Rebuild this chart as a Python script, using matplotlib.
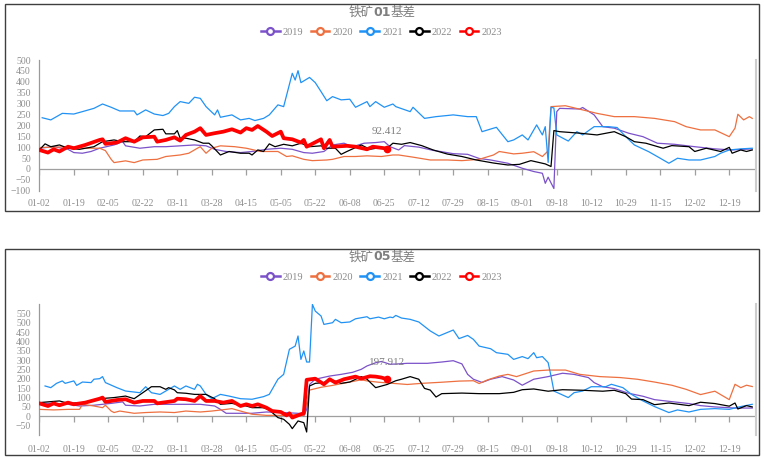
import matplotlib
matplotlib.use('Agg')
import matplotlib.pyplot as plt
from matplotlib.lines import Line2D
from matplotlib.patches import Rectangle
from matplotlib.offsetbox import TextArea, HPacker, AnchoredOffsetbox

# ---------------- data ----------------
tick_labels = ["01-02", "01-19", "02-05", "02-22", "03-11", "03-28", "04-15",
               "05-05", "05-22", "06-08", "06-25", "07-12", "07-29", "08-15",
               "09-01", "09-18", "10-12", "10-29", "11-15", "12-02", "12-19"]
label_step = 12          # trading days between labels
axis_days = 249.2        # category axis length in trading days
years = ["2019", "2020", "2021", "2022", "2023"]

# (trading-day index, basis) pairs
c01_2019 = [(0,95),(5,102),(10,90),(12,75),(15,72),(18,80),(21,95),(26,110),(29,125),(30,106),(35,95),(40,102),(44,102),(49,106),(54,110),(58,106),(61,90),(65,80),(70,75),(74,80),(79,90),(84,95),(88,90),(92,75),(95,72),(99,80),(102,110),(106,118),(109,102),(113,118),(117,121),(120,125),(122,102),(125,87),(127,107),(132,100),(137,85),(140,79),(144,70),(149,67),(153,48),(157,41),(163,26),(168,3),(172,-12),(175,-20),(176,-66),(177,-38),(179,-90),(180,263),(181,278),(188,275),(189,282),(193,248),(196,194),(200,187),(205,164),(210,148),(215,118),(221,113),(228,102),(235,92),(241,87),(248,92)]
c01_2020 = [(0,98),(10,102),(16,95),(21,95),(23,84),(25,44),(26,29),(30,37),(33,29),(36,41),(41,44),(44,57),(49,64),(52,72),(55,95),(56,102),(58,72),(60,95),(63,106),(68,102),(72,95),(77,80),(83,80),(86,57),(88,60),(92,44),(95,38),(100,41),(102,44),(106,57),(110,57),(114,60),(119,57),(123,64),(125,64),(130,54),(136,41),(142,41),(147,38),(153,44),(158,64),(160,80),(165,69),(168,72),(172,79),(175,57),(177,83),(178,286),(183,290),(189,271),(194,255),(200,240),(207,240),(214,232),(221,217),(225,194),(230,179),(235,179),(240,148),(242,187),(243,251),(245,225),(247,240),(248,232)]
c01_2021 = [(1,235),(4,225),(8,255),(12,252),(15,263),(19,278),(22,298),(25,283),(28,266),(33,266),(34,248),(37,271),(40,252),(43,245),(45,255),(47,286),(49,309),(52,301),(54,329),(56,324),(58,286),(61,248),(62,271),(63,237),(67,248),(70,225),(73,232),(75,222),(78,232),(80,248),(83,294),(85,286),(88,439),(89,408),(90,451),(91,396),(94,420),(96,396),(98,355),(100,313),(102,332),(105,317),(108,320),(110,283),(114,309),(115,286),(117,309),(120,283),(123,298),(124,286),(129,263),(130,283),(134,232),(138,240),(144,248),(149,240),(152,240),(154,171),(159,191),(163,125),(165,133),(168,156),(170,133),(173,202),(175,156),(176,194),(177,30),(178,283),(179,280),(180,156),(184,128),(187,171),(189,156),(193,194),(198,194),(201,190),(204,148),(207,110),(212,79),(216,49),(219,26),(222,49),(226,41),(230,41),(235,57),(237,72),(240,87),(244,92),(248,95)]
c01_2022 = [(0,87),(2,115),(4,102),(7,110),(10,95),(14,90),(19,102),(22,125),(26,133),(29,125),(33,125),(35,151),(37,148),(40,179),(43,182),(44,161),(47,161),(48,176),(49,141),(51,141),(54,133),(57,118),(59,118),(60,106),(63,64),(66,80),(70,72),(73,72),(74,64),(76,87),(78,80),(80,115),(82,102),(85,113),(88,106),(91,118),(94,102),(98,106),(100,95),(103,95),(105,67),(107,80),(112,110),(115,90),(119,99),(121,95),(123,118),(126,113),(129,121),(133,107),(137,87),(142,68),(147,57),(152,41),(158,27),(163,18),(167,21),(171,38),(176,23),(178,11),(179,176),(181,171),(188,164),(194,156),(200,171),(204,148),(207,125),(211,118),(217,95),(220,107),(226,102),(228,80),(232,95),(237,80),(240,99),(241,72),(244,87),(246,80),(248,87)]
c01_2023 = [(0,87),(3,75),(5,90),(7,80),(10,102),(12,95),(16,110),(21,133),(22,136),(23,115),(27,121),(30,141),(33,125),(36,145),(40,148),(41,125),(44,133),(47,145),(49,130),(51,156),(54,171),(56,187),(58,156),(61,164),(64,171),(67,182),(70,167),(72,187),(74,179),(76,197),(79,171),(81,151),(84,171),(85,141),(88,136),(91,121),(92,133),(93,102),(98,136),(99,95),(101,133),(102,102),(107,106),(110,102),(114,90),(116,102),(120,95),(121,92.412)]

c05_2019 = [(0,69),(5,69),(10,64),(14,55),(19,59),(25,69),(29,77),(30,59),(35,55),(40,64),(47,64),(51,64),(56,64),(61,55),(63,37),(65,16),(70,16),(74,16),(79,23),(85,20),(91,15),(92,2),(93,37),(94,170),(96,198),(101,215),(105,224),(109,235),(112,251),(114,269),(117,286),(119,293),(122,278),(125,280),(128,283),(135,283),(140,290),(144,297),(147,280),(149,224),(151,198),(154,181),(157,198),(161,212),(165,194),(168,166),(172,198),(177,212),(182,230),(186,224),(191,207),(193,180),(196,158),(200,148),(205,123),(210,107),(214,89),(219,80),(226,68),(230,57),(235,50),(242,44),(248,44)]
c05_2020 = [(0,37),(5,34),(10,37),(14,37),(15,64),(19,55),(22,46),(23,59),(25,28),(26,20),(28,28),(33,16),(37,20),(42,23),(47,20),(51,28),(56,23),(60,28),(65,37),(67,41),(70,28),(74,11),(79,5),(86,5),(91,11),(92,2),(94,140),(98,155),(102,165),(107,180),(112,195),(114,189),(118,182),(123,176),(128,170),(133,176),(140,182),(146,188),(151,190),(153,175),(156,195),(160,215),(163,224),(166,212),(172,242),(177,247),(183,247),(188,224),(195,212),(202,207),(208,198),(214,183),(220,166),(225,144),(230,116),(235,134),(237,116),(240,89),(242,171),(244,153),(246,166),(248,159)]
c05_2021 = [(2,162),(4,153),(6,176),(8,189),(9,176),(12,189),(13,165),(15,183),(18,180),(19,198),(21,201),(22,212),(23,180),(27,153),(30,135),(35,126),(37,158),(39,126),(42,117),(44,135),(47,162),(49,144),(51,162),(54,144),(55,171),(56,162),(58,117),(60,94),(63,117),(66,108),(70,94),(74,91),(78,105),(80,117),(83,198),(85,224),(87,358),(89,375),(90,429),(91,304),(92,349),(93,290),(94,290),(95,598),(96,562),(98,536),(99,491),(102,500),(103,518),(105,500),(108,504),(110,521),(114,532),(115,521),(118,530),(120,521),(122,530),(123,527),(124,539),(126,525),(129,518),(132,504),(136,456),(139,429),(144,461),(146,415),(149,432),(151,411),(153,375),(157,361),(159,340),(163,331),(165,304),(168,319),(170,308),(172,340),(173,313),(175,319),(177,287),(178,215),(179,135),(184,100),(186,126),(189,135),(192,158),(197,158),(199,171),(203,153),(206,117),(210,82),(214,52),(219,20),(222,34),(226,23),(230,37),(235,41),(240,37),(244,52),(248,64)]
c05_2022 = [(0,73),(3,77),(7,82),(10,69),(15,73),(21,94),(26,100),(30,108),(33,94),(36,126),(39,158),(42,158),(44,144),(45,153),(47,141),(48,126),(51,123),(54,117),(58,117),(61,94),(63,64),(67,69),(72,55),(74,46),(78,46),(80,34),(83,-7),(85,-16),(87,-43),(88,-66),(90,-25),(92,-34),(93,-84),(94,162),(96,176),(99,180),(101,198),(105,176),(108,183),(112,212),(114,198),(117,153),(121,170),(124,190),(126,198),(129,212),(132,198),(134,149),(136,140),(138,103),(140,121),(147,124),(153,121),(160,121),(165,128),(168,142),(172,146),(177,134),(182,142),(189,139),(196,134),(200,139),(204,121),(206,92),(210,89),(214,62),(219,71),(226,57),(230,75),(235,68),(240,54),(242,71),(243,39),(246,57),(248,50)]
c05_2023 = [(0,69),(3,55),(5,69),(7,59),(10,73),(12,64),(16,73),(21,94),(22,100),(23,77),(27,87),(30,91),(33,73),(36,82),(40,82),(41,69),(47,82),(48,94),(51,91),(54,82),(56,108),(58,82),(61,82),(64,73),(67,82),(70,55),(72,64),(74,55),(76,64),(79,46),(81,28),(84,23),(86,5),(87,16),(88,-7),(91,11),(92,16),(93,195),(96,201),(99,171),(101,198),(103,180),(106,198),(110,212),(112,201),(115,214),(117,212),(119,207),(121,197.912)]

# ---------------- styling ----------------
colors = {"2019": "#7B52C9", "2020": "#EE7040", "2021": "#2192F5",
          "2022": "#000000", "2023": "#FF0000"}
label_color = "#8E8E8E"
serif = ["Liberation Serif", "DejaVu Serif"]
cjk = ["Noto Sans CJK SC", "DejaVu Sans"]

W, H = 764, 459
fig = plt.figure(figsize=(W / 100, H / 100), dpi=100)

panels = [
    dict(series=[c01_2019, c01_2020, c01_2021, c01_2022, c01_2023],
         title_code="01", ylim=(-100, 500), yticks=list(range(-100, 501, 50)),
         ax_box=(39.3, 60, 755.7, 190.7), border=(4.5, 4, 759, 211),
         title_y=12.5, legend_y=32.3, xpad=6),
    dict(series=[c05_2019, c05_2020, c05_2021, c05_2022, c05_2023],
         title_code="05", ylim=(-100, 600), yticks=list(range(-50, 551, 50)),
         ax_box=(39.3, 304, 755.7, 435), border=(5, 249, 759, 455),
         title_y=257, legend_y=277.3, xpad=7),
]

for p in panels:
    x0, y0, x1, y1 = p["ax_box"]
    ax = fig.add_axes([x0 / W, 1 - y1 / H, (x1 - x0) / W, (y1 - y0) / H])
    ax.set_xlim(0, axis_days)
    ax.set_ylim(*p["ylim"])

    for yr, data in zip(years, p["series"]):
        xs = [d for d, v in data]
        ys = [v for d, v in data]
        if yr == "2023":
            ax.plot(xs, ys, color=colors[yr], lw=2.7, solid_joinstyle="round", zorder=6)
            ax.plot(xs[-1:], ys[-1:], 'o', color=colors[yr], ms=4.5, zorder=7)
            ax.annotate(f"{ys[-1]:.3f}", (xs[-1], ys[-1]), xytext=(0, 9),
                        textcoords="offset points", ha="center", va="bottom",
                        fontsize=8, family=serif, color="#7F7F7F", zorder=8)
        else:
            ax.plot(xs, ys, color=colors[yr], lw=0.9, zorder=3 + years.index(yr) * 0.1)

    # zero axis line with category ticks
    tick_pos = [i * label_step for i in range(len(tick_labels))]
    ax.axhline(0, color="#9F9F9F", lw=0.9, zorder=2)
    ax.plot(tick_pos, [0] * len(tick_pos), ls="none", marker=3, ms=4,
            mew=0.9, color="#9F9F9F", zorder=2)

    ax.set_xticks(tick_pos)
    ax.set_xticklabels(tick_labels)
    ax.set_yticks(p["yticks"])
    ax.tick_params(axis="both", length=0, labelsize=7, labelcolor=label_color)
    ax.tick_params(axis="x", pad=p["xpad"])
    ax.tick_params(axis="y", pad=6)
    for lab in ax.get_xticklabels() + ax.get_yticklabels():
        lab.set_family(serif)

    for s in ["top", "bottom"]:
        ax.spines[s].set_visible(False)
    ax.spines["left"].set_color("#9A9A9A")
    ax.spines["left"].set_linewidth(0.9)
    ax.spines["right"].set_color("#CDCDCD")
    ax.spines["right"].set_linewidth(1.5)

    # panel border
    bx0, by0, bx1, by1 = p["border"]
    fig.add_artist(Rectangle((bx0 / W, 1 - by1 / H), (bx1 - bx0) / W, (by1 - by0) / H,
                             transform=fig.transFigure, fill=False,
                             edgecolor="#3F3F3F", lw=1.0, zorder=10))

    # title with bold contract code
    tprops = dict(color="#7F7F7F", fontsize=9, family=cjk)
    box = HPacker(children=[
        TextArea("铁矿", textprops=tprops),
        TextArea(p["title_code"], textprops=dict(tprops, weight="bold", family=["DejaVu Sans"])),
        TextArea("基差", textprops=tprops)], align="baseline", pad=0, sep=0)
    anch = AnchoredOffsetbox(loc="center", child=box, frameon=False,
                             bbox_to_anchor=(382 / W, 1 - p["title_y"] / H),
                             bbox_transform=fig.transFigure, pad=0, borderpad=0)
    fig.add_artist(anch)

    # legend
    handles = [Line2D([], [], color=colors[yr], lw=1.8, marker="o", ms=5,
                      mfc="white", mec=colors[yr], mew=1.6) for yr in years]
    fig.legend(handles, years, loc="center", bbox_to_anchor=(381.5 / W, 1 - p["legend_y"] / H),
               ncol=5, frameon=False, handlelength=1.8, handletextpad=0.3,
               columnspacing=0.7, borderpad=0,
               prop=dict(family=serif, size=7.5), labelcolor="#8A8A8A")

fig.savefig("out.png", dpi=100)
